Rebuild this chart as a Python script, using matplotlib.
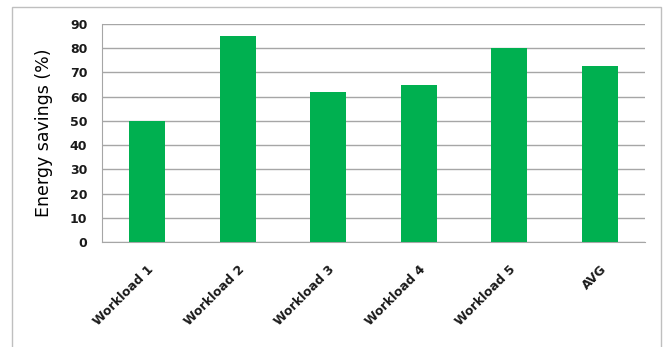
import matplotlib
matplotlib.use("Agg")
import matplotlib.pyplot as plt
from matplotlib.patches import Rectangle
import numpy as np

workloads = ["Workload 1", "Workload 2", "Workload 3", "Workload 4", "Workload 5", "AVG"]
savings = [50, 85, 62, 65, 80, 72.5]

green = "#00B050"
grid_grey = "#A6A6A6"

fig = plt.figure(figsize=(6.66, 3.47), dpi=100)
fig.patch.set_facecolor("white")

# outer chart frame (bottom edge runs off the picture)
fig.patches.append(Rectangle((12 / 666, -0.05), (661 - 12) / 666, 1.05 - 7 / 347,
                             transform=fig.transFigure, fill=False,
                             edgecolor="#BFBFBF", linewidth=1.0))

ax = fig.add_axes([102 / 666, 1 - 242 / 347, (645 - 102) / 666, (242 - 24) / 347])

x = np.arange(len(workloads))
ax.bar(x, savings, width=0.4, color=green, zorder=3)

ax.set_xlim(-0.5, len(workloads) - 0.5)
ax.set_ylim(0, 90)
ax.set_yticks(np.arange(0, 91, 10))
ax.yaxis.grid(True, color=grid_grey, linewidth=1.0, zorder=0)

for s in ["top", "right"]:
    ax.spines[s].set_visible(False)
ax.spines["left"].set_color(grid_grey)
ax.spines["bottom"].set_color(grid_grey)

ax.tick_params(axis="both", length=0, colors="#1a1a1a")
ax.tick_params(axis="y", pad=10.5)
ax.set_xticks(x)
ax.set_xticklabels(workloads, rotation=45, ha="right", rotation_mode="anchor",
                   fontsize=9, fontweight="bold")
for lbl in ax.get_yticklabels():
    lbl.set_fontsize(9)
    lbl.set_fontweight("bold")
ax.tick_params(axis="x", pad=15)

ax.set_ylabel("Energy savings (%)", fontsize=12.5, color="black")
ax.yaxis.set_label_coords(-0.09, 0.5)

fig.savefig("out.png", dpi=100)
